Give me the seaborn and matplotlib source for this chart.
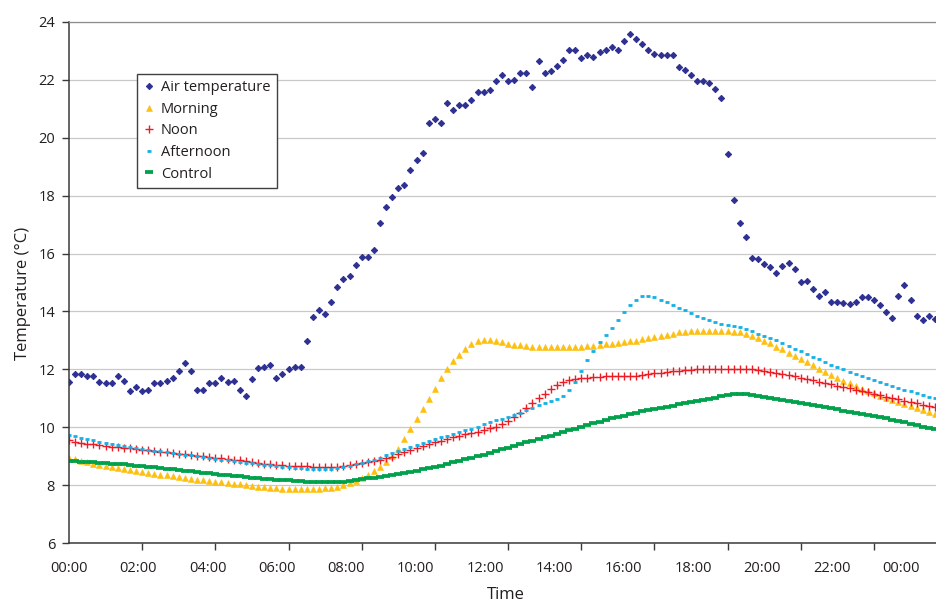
import numpy as np
import pandas as pd
import matplotlib
matplotlib.use("Agg")
import matplotlib.pyplot as plt
import seaborn as sns

# Readings every 10 minutes, starting at 00:00 (143 samples)
sample_minutes = 10

air_temperature = [
    11.55, 11.85, 11.85, 11.76, 11.76, 11.56, 11.53, 11.54, 11.78, 11.59,
    11.26, 11.38, 11.26, 11.28, 11.54, 11.53, 11.61, 11.72, 11.95, 12.22,
    11.95, 11.28, 11.28, 11.52, 11.53, 11.72, 11.55, 11.59, 11.28, 11.09,
    11.66, 12.06, 12.09, 12.15, 11.69, 11.83, 12.03, 12.09, 12.08, 12.99,
    13.80, 14.06, 13.90, 14.31, 14.84, 15.13, 15.21, 15.61, 15.87, 15.87,
    16.12, 17.04, 17.62, 17.96, 18.25, 18.37, 18.87, 19.23, 19.48, 20.49,
    20.64, 20.51, 21.20, 20.94, 21.14, 21.14, 21.30, 21.56, 21.59, 21.63,
    21.96, 22.15, 21.96, 21.98, 22.23, 22.23, 21.76, 22.63, 22.24, 22.31,
    22.47, 22.69, 23.01, 23.01, 22.74, 22.85, 22.79, 22.94, 23.02, 23.12,
    23.01, 23.35, 23.57, 23.41, 23.23, 23.03, 22.89, 22.84, 22.85, 22.84,
    22.44, 22.33, 22.17, 21.96, 21.96, 21.88, 21.68, 21.37, 19.43, 17.85,
    17.06, 16.57, 15.85, 15.81, 15.65, 15.53, 15.32, 15.57, 15.68, 15.45,
    15.02, 15.04, 14.79, 14.54, 14.66, 14.31, 14.31, 14.30, 14.26, 14.31,
    14.51, 14.49, 14.40, 14.22, 13.97, 13.77, 14.54, 14.91, 14.38, 13.86,
    13.70, 13.83, 13.74,
]

morning = [
    8.95, 8.90, 8.85, 8.80, 8.75, 8.71, 8.68, 8.64, 8.61, 8.57,
    8.54, 8.51, 8.47, 8.44, 8.40, 8.37, 8.34, 8.31, 8.28, 8.25,
    8.22, 8.20, 8.18, 8.16, 8.13, 8.11, 8.08, 8.05, 8.03, 8.00,
    7.98, 7.96, 7.94, 7.92, 7.91, 7.89, 7.88, 7.87, 7.87, 7.86,
    7.87, 7.88, 7.90, 7.92, 7.96, 8.01, 8.07, 8.15, 8.25, 8.37,
    8.51, 8.65, 8.80, 9.00, 9.27, 9.59, 9.94, 10.30, 10.64, 10.98,
    11.34, 11.71, 12.03, 12.28, 12.51, 12.69, 12.87, 12.98, 13.02, 13.02,
    12.98, 12.93, 12.89, 12.86, 12.83, 12.81, 12.79, 12.77, 12.76, 12.76,
    12.76, 12.76, 12.76, 12.77, 12.79, 12.80, 12.82, 12.84, 12.87, 12.89,
    12.91, 12.94, 12.97, 12.99, 13.04, 13.09, 13.12, 13.16, 13.20, 13.24,
    13.28, 13.30, 13.31, 13.33, 13.33, 13.32, 13.31, 13.31, 13.31, 13.30,
    13.28, 13.23, 13.17, 13.08, 12.99, 12.90, 12.79, 12.69, 12.58, 12.47,
    12.36, 12.25, 12.14, 12.03, 11.92, 11.81, 11.71, 11.61, 11.52, 11.43,
    11.34, 11.26, 11.17, 11.09, 11.02, 10.95, 10.89, 10.82, 10.75, 10.68,
    10.61, 10.54, 10.47,
]

noon = [
    9.55, 9.51, 9.47, 9.44, 9.41, 9.39, 9.36, 9.34, 9.32, 9.30,
    9.28, 9.25, 9.23, 9.21, 9.18, 9.16, 9.14, 9.11, 9.09, 9.07,
    9.05, 9.02, 9.00, 8.98, 8.96, 8.94, 8.92, 8.89, 8.86, 8.83,
    8.80, 8.77, 8.75, 8.74, 8.71, 8.69, 8.68, 8.67, 8.66, 8.66,
    8.65, 8.64, 8.64, 8.64, 8.65, 8.67, 8.70, 8.73, 8.77, 8.81,
    8.84, 8.88, 8.93, 8.99, 9.07, 9.15, 9.22, 9.30, 9.36, 9.43,
    9.48, 9.54, 9.61, 9.66, 9.70, 9.76, 9.79, 9.84, 9.90, 9.97,
    10.03, 10.12, 10.23, 10.37, 10.50, 10.67, 10.83, 11.00, 11.15, 11.33,
    11.47, 11.56, 11.63, 11.67, 11.71, 11.72, 11.74, 11.75, 11.76, 11.77,
    11.77, 11.78, 11.79, 11.79, 11.82, 11.84, 11.86, 11.88, 11.90, 11.93,
    11.95, 11.97, 11.99, 12.01, 12.02, 12.03, 12.03, 12.03, 12.03, 12.03,
    12.03, 12.02, 12.00, 11.98, 11.95, 11.92, 11.89, 11.85, 11.81, 11.77,
    11.72, 11.68, 11.63, 11.58, 11.53, 11.49, 11.44, 11.39, 11.35, 11.30,
    11.25, 11.21, 11.16, 11.11, 11.06, 11.02, 10.97, 10.92, 10.88, 10.83,
    10.78, 10.74, 10.69,
]

afternoon = [
    9.73, 9.69, 9.64, 9.61, 9.56, 9.51, 9.47, 9.43, 9.40, 9.37,
    9.33, 9.29, 9.26, 9.23, 9.20, 9.17, 9.14, 9.10, 9.08, 9.05,
    9.03, 9.00, 8.98, 8.95, 8.92, 8.89, 8.86, 8.83, 8.80, 8.78,
    8.76, 8.74, 8.71, 8.69, 8.67, 8.65, 8.63, 8.61, 8.59, 8.58,
    8.57, 8.57, 8.57, 8.58, 8.60, 8.64, 8.68, 8.72, 8.77, 8.83,
    8.89, 8.96, 9.03, 9.10, 9.18, 9.26, 9.33, 9.40, 9.47, 9.54,
    9.60, 9.66, 9.72, 9.78, 9.84, 9.90, 9.96, 10.03, 10.10, 10.17,
    10.24, 10.30, 10.37, 10.44, 10.51, 10.60, 10.68, 10.77, 10.83, 10.92,
    10.99, 11.08, 11.29, 11.56, 11.93, 12.32, 12.64, 12.94, 13.20, 13.44,
    13.72, 13.99, 14.21, 14.39, 14.52, 14.54, 14.49, 14.41, 14.32, 14.22,
    14.13, 14.05, 13.95, 13.86, 13.79, 13.71, 13.63, 13.57, 13.54, 13.51,
    13.45, 13.39, 13.32, 13.24, 13.17, 13.09, 13.01, 12.92, 12.82, 12.72,
    12.62, 12.53, 12.44, 12.35, 12.26, 12.17, 12.08, 12.00, 11.92, 11.84,
    11.77, 11.70, 11.63, 11.56, 11.49, 11.42, 11.36, 11.30, 11.24, 11.18,
    11.12, 11.06, 11.00,
]

control = [
    8.85, 8.84, 8.82, 8.81, 8.79, 8.78, 8.76, 8.75, 8.74, 8.72,
    8.70, 8.68, 8.66, 8.64, 8.62, 8.60, 8.58, 8.55, 8.53, 8.51,
    8.49, 8.46, 8.43, 8.41, 8.39, 8.37, 8.35, 8.33, 8.31, 8.29,
    8.27, 8.25, 8.23, 8.22, 8.20, 8.18, 8.17, 8.15, 8.14, 8.13,
    8.12, 8.12, 8.12, 8.12, 8.12, 8.13, 8.15, 8.18, 8.21, 8.24,
    8.27, 8.30, 8.33, 8.36, 8.39, 8.43, 8.47, 8.51, 8.55, 8.59,
    8.63, 8.68, 8.73, 8.79, 8.84, 8.90, 8.95, 9.01, 9.06, 9.12,
    9.18, 9.24, 9.30, 9.36, 9.42, 9.48, 9.54, 9.60, 9.66, 9.72,
    9.78, 9.84, 9.90, 9.96, 10.02, 10.08, 10.14, 10.20, 10.26, 10.31,
    10.36, 10.41, 10.46, 10.50, 10.55, 10.59, 10.63, 10.67, 10.71, 10.75,
    10.79, 10.83, 10.87, 10.91, 10.95, 10.99, 11.03, 11.08, 11.11, 11.14,
    11.15, 11.14, 11.12, 11.09, 11.06, 11.03, 10.99, 10.96, 10.92, 10.88,
    10.85, 10.81, 10.77, 10.73, 10.70, 10.66, 10.62, 10.58, 10.54, 10.50,
    10.47, 10.43, 10.39, 10.35, 10.31, 10.27, 10.23, 10.18, 10.13, 10.08,
    10.03, 9.98, 9.93,
]

time_labels = ["00:00", "02:00", "04:00", "06:00", "08:00", "10:00", "12:00",
               "14:00", "16:00", "18:00", "20:00", "22:00", "00:00"]
y_ticks = [6, 8, 10, 12, 14, 16, 18, 20, 22, 24]

hours = np.arange(len(air_temperature)) * sample_minutes / 60.0
df = pd.DataFrame({
    "hours": hours,
    "Air temperature": air_temperature,
    "Morning": morning,
    "Noon": noon,
    "Afternoon": afternoon,
    "Control": control,
})

sns.set_theme(style="white")
plt.rcParams["font.family"] = ["Open Sans", "DejaVu Sans"]
text_color = "#231f20"
axis_color = "#3a3a3a"

fig = plt.figure(figsize=(9.37, 6.01), dpi=100)
ax = fig.add_axes([69 / 937, 57.7 / 601, 868 / 937, 521.6 / 601])

styles = [
    ("Air temperature", dict(marker="D", markersize=3.2, color="#2e3192",
                             markeredgecolor="#2e3192", markeredgewidth=0.7)),
    ("Morning", dict(marker="^", markersize=4.6, color="#fdc010",
                     markeredgecolor="#fdc010", markeredgewidth=0.4)),
    ("Noon", dict(marker="+", markersize=6.2, color="#ed1c24",
                  markeredgecolor="#ed1c24", markeredgewidth=1.0)),
    ("Afternoon", dict(marker="_", markersize=2.3, color="#14b1e6",
                       markeredgecolor="#14b1e6", markeredgewidth=2.0)),
    ("Control", dict(marker="_", markersize=5.8, color="#00a14b",
                     markeredgecolor="#00a14b", markeredgewidth=2.7)),
]

for name, kw in styles:
    sns.lineplot(data=df, x="hours", y=name, ax=ax, label=name,
                 linestyle="", **kw)

# Axis limits and ticks
ax.set_ylim(6, 24)
ax.set_xlim(0, 142.34 * sample_minutes / 60.0)
ax.set_yticks(y_ticks)
ax.set_yticklabels([str(v) for v in y_ticks])

# Tick marks every two hours; hour labels spread evenly across the axis
ax.set_xticks(np.arange(0, 23, 2), minor=True)
ax.set_xticks(np.arange(len(time_labels)) * 1.895)
ax.set_xticklabels(time_labels)

ax.tick_params(axis="x", which="major", length=0, pad=13,
               labelsize=10.5, labelcolor=text_color)
ax.tick_params(axis="x", which="minor", direction="out", length=5,
               width=1, color=axis_color, bottom=True)
ax.tick_params(axis="y", which="major", direction="out", length=5,
               width=1, color=axis_color, pad=5, labelsize=10.5,
               labelcolor=text_color, left=True)

ax.grid(axis="y", color="#c9c9c9", linewidth=0.9)
ax.grid(axis="x", visible=False)
ax.set_axisbelow(True)

ax.spines["right"].set_visible(False)
ax.spines["top"].set_color("#8c8c8c")
ax.spines["top"].set_linewidth(0.9)
for side in ("left", "bottom"):
    ax.spines[side].set_color(axis_color)
    ax.spines[side].set_linewidth(1.1)

ax.set_xlabel("Time", fontsize=12, color=text_color)
ax.set_ylabel("Temperature (°C)", fontsize=12, color=text_color)
ax.xaxis.set_label_coords(0.5035, -0.083)
ax.yaxis.set_label_coords(-0.044, 0.479)

leg = ax.legend(loc="upper left", bbox_to_anchor=(0.0783, 0.9003),
                borderaxespad=0, frameon=True, fancybox=False,
                edgecolor="#404040", framealpha=1, fontsize=10.5,
                handlelength=0.7, handletextpad=0.5, borderpad=0.45,
                labelspacing=0.45)
leg.get_frame().set_linewidth(1.0)
for t in leg.get_texts():
    t.set_color(text_color)

fig.savefig("out.png", dpi=100)
